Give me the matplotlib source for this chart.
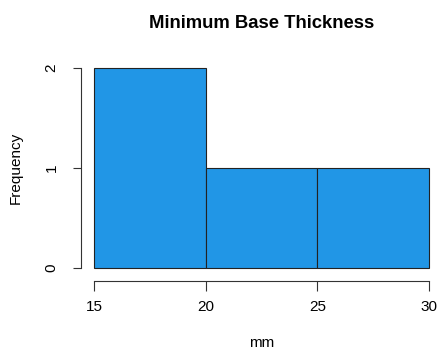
import matplotlib
matplotlib.use("Agg")
import matplotlib.pyplot as plt

# histogram data (bin edges in mm, counts per bin)
bin_edges = [15, 20, 25, 30]
counts = [2, 1, 1]
x_ticks = [15, 20, 25, 30]
y_ticks = [0, 1, 2]

plt.rcParams["font.family"] = ["Liberation Sans", "DejaVu Sans"]

W, H = 439, 352
fig = plt.figure(figsize=(W / 100, H / 100), dpi=100, facecolor="white")

# plot region in pixels (R style, 4% padding around data range)
px_left, px_right = 80.6, 442.4
px_top, px_bottom = 60, 276
ax = fig.add_axes([px_left / W, 1 - px_bottom / H,
                   (px_right - px_left) / W, (px_bottom - px_top) / H])
ax.set_facecolor("white")

ax.hist(bin_edges[:-1], bins=bin_edges, weights=counts,
        color="#2196E6", edgecolor="#222222", linewidth=0.8)

ax.set_xlim(14.4, 30.6)
ax.set_ylim(-0.08, 2.08)

for s in ["top", "right"]:
    ax.spines[s].set_visible(False)
ax.spines["bottom"].set_bounds(15, 30)
ax.spines["bottom"].set_position(("outward", 3.6))
ax.spines["left"].set_bounds(0, 2)
for s in ["bottom", "left"]:
    ax.spines[s].set_color("#333333")
    ax.spines[s].set_linewidth(0.8)

ax.set_xticks(x_ticks)
ax.set_yticks(y_ticks)
ax.set_yticklabels([str(v) for v in y_ticks], rotation=90, va="center")
ax.tick_params(axis="x", length=7, width=0.8, color="#333333", pad=6.5,
               labelsize=11)
ax.tick_params(axis="y", length=6, width=0.8, color="#333333", pad=10,
               labelsize=11)

fig.text(261.5 / W, 1 - 23 / H, "Minimum Base Thickness", ha="center",
         va="center", fontsize=13.3, fontweight="bold")
fig.text(261.5 / W, 1 - 343 / H, "mm", ha="center", va="center", fontsize=11)
fig.text(16 / W, 1 - 168 / H, "Frequency", ha="center", va="center",
         rotation=90, fontsize=11)

fig.savefig("out.png", dpi=100)
